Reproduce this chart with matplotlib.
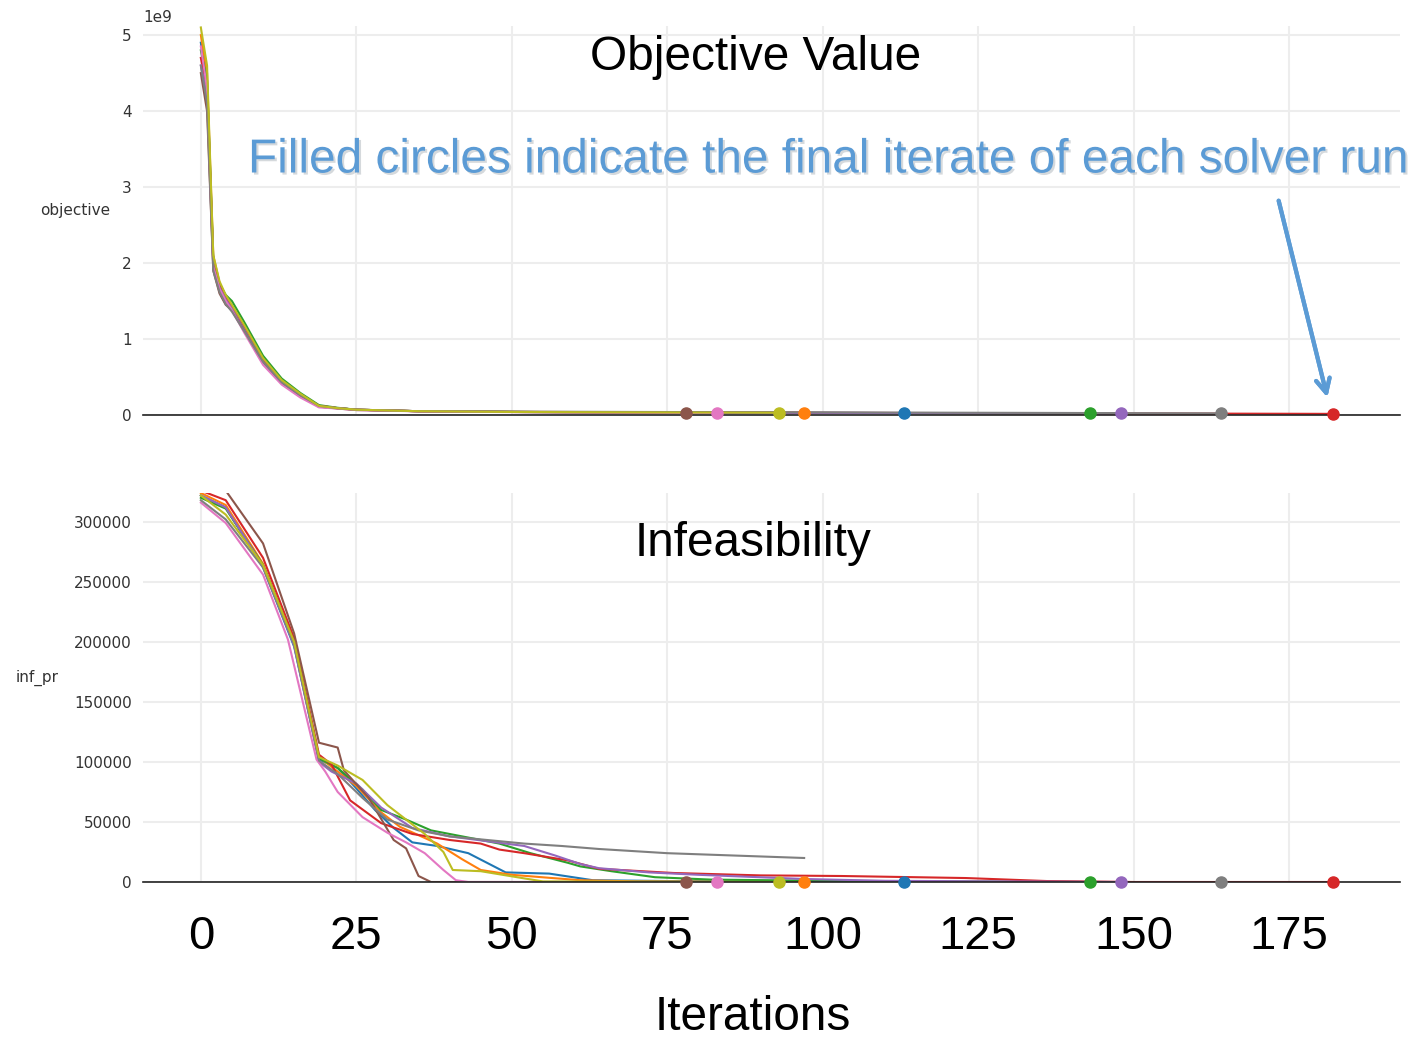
import matplotlib.pyplot as plt
import matplotlib.patheffects as pe

# solver runs, in tab10 colour order
run_colors = ["tab:blue", "tab:orange", "tab:green", "tab:red", "tab:purple",
              "tab:brown", "tab:pink", "tab:gray", "tab:olive"]
final_iter = [113, 97, 143, 182, 148, 78, 83, 164, 93]

# objective (x 1e9) at shared iteration breakpoints, then final value
obj_iter = [0, 1, 2, 3, 4, 5, 7, 10, 13, 16, 19, 22, 25, 35, 50, 70]
obj_blue = [4.9, 4.4, 2.0, 1.70, 1.52, 1.40, 1.12, 0.70, 0.43, 0.25, 0.11, 0.09, 0.07, 0.05, 0.040, 0.035]
obj_orange = [5.0, 4.5, 2.1, 1.74, 1.56, 1.44, 1.16, 0.73, 0.45, 0.27, 0.12, 0.09, 0.07, 0.05, 0.042, 0.036]
obj_green = [4.8, 4.4, 2.05, 1.72, 1.58, 1.50, 1.22, 0.78, 0.48, 0.29, 0.13, 0.095, 0.07, 0.05, 0.040, 0.033]
obj_red = [4.7, 4.3, 2.0, 1.70, 1.54, 1.42, 1.14, 0.72, 0.44, 0.26, 0.12, 0.09, 0.07, 0.05, 0.040, 0.034]
obj_purple = [4.6, 4.2, 1.95, 1.68, 1.52, 1.40, 1.12, 0.70, 0.43, 0.25, 0.11, 0.09, 0.07, 0.05, 0.040, 0.033]
obj_brown = [4.5, 4.0, 1.9, 1.60, 1.45, 1.38, 1.10, 0.70, 0.42, 0.25, 0.11, 0.085, 0.065, 0.05, 0.040, 0.035]
obj_pink = [4.85, 4.3, 1.95, 1.66, 1.50, 1.38, 1.08, 0.66, 0.40, 0.23, 0.10, 0.085, 0.065, 0.048, 0.038, 0.033]
obj_gray = [4.6, 4.1, 1.9, 1.62, 1.46, 1.36, 1.10, 0.70, 0.43, 0.26, 0.12, 0.09, 0.07, 0.05, 0.045, 0.040]
obj_olive = [5.1, 4.6, 2.1, 1.76, 1.58, 1.45, 1.18, 0.75, 0.46, 0.28, 0.12, 0.09, 0.07, 0.05, 0.040, 0.035]
obj_final = [0.025, 0.03, 0.02, 0.015, 0.02, 0.03, 0.028, 0.022, 0.03]

# primal infeasibility, (iteration, inf_pr) breakpoints per run
inf_blue = [(0, 322e3), (4, 312e3), (10, 262e3), (15, 196e3), (19, 102e3), (22, 95e3), (25, 78e3),
            (28, 60e3), (31, 45e3), (34, 33e3), (38, 30e3), (43, 24e3), (46, 16e3), (49, 8e3),
            (56, 7e3), (63, 1.5e3), (75, 800), (113, 0)]
inf_orange = [(0, 324e3), (4, 314e3), (10, 265e3), (15, 198e3), (19, 104e3), (22, 92e3), (25, 80e3),
              (29, 58e3), (32, 46e3), (38, 32e3), (42, 19e3), (45, 10e3), (50, 6e3), (56, 3.5e3),
              (61, 1.5e3), (70, 500), (97, 0)]
inf_green = [(0, 320e3), (4, 311e3), (10, 264e3), (15, 200e3), (19, 103e3), (22, 95e3), (26, 77e3),
             (29, 60e3), (33, 52e3), (37, 43e3), (42, 38e3), (48, 32e3), (53, 24e3), (59, 16e3),
             (61, 13e3), (66, 9e3), (73, 4e3), (82, 2e3), (100, 1e3), (143, 0)]
inf_red = [(0, 326e3), (4, 318e3), (10, 270e3), (15, 203e3), (19, 106e3), (21, 98e3), (24, 68e3),
           (29, 49e3), (34, 40e3), (40, 35e3), (45, 32e3), (48, 27e3), (52, 24e3), (59, 18e3),
           (64, 11e3), (76, 7.5e3), (90, 5.5e3), (103, 5e3), (123, 3.3e3), (136, 800), (150, 0), (182, 0)]
inf_purple = [(0, 322e3), (4, 312e3), (10, 263e3), (15, 197e3), (19, 100e3), (21, 92e3), (25, 82e3),
              (29, 62e3), (34, 45e3), (40, 38e3), (46, 34e3), (52, 30e3), (57, 22e3), (61, 15e3),
              (64, 11.5e3), (72, 8e3), (80, 6e3), (97, 2.5e3), (110, 1e3), (148, 0)]
inf_brown = [(0, 338e3), (4, 326e3), (10, 282e3), (15, 207e3), (19, 116e3), (22, 112e3), (23, 93e3),
             (27, 70e3), (31, 35e3), (33, 28e3), (35, 5e3), (37, 0), (78, 0)]
inf_pink = [(0, 316e3), (4, 299e3), (10, 256e3), (14, 202e3), (18.6, 102e3), (20, 92e3), (22, 75e3),
            (26, 54e3), (30, 41e3), (33, 33e3), (36, 24e3), (39, 10e3), (41, 1.5e3), (43, 0), (83, 0)]
inf_gray = [(0, 318e3), (4, 302e3), (10, 262e3), (15, 198e3), (19, 101e3), (22, 90e3), (26, 70e3),
            (30, 52e3), (35, 43e3), (40, 38e3), (46, 35e3), (52, 32e3), (58, 30e3), (64, 27.5e3),
            (75, 24e3), (86, 22e3), (97, 20e3)]
inf_olive = [(0, 322e3), (4, 306e3), (10, 264e3), (15, 200e3), (19, 104e3), (22, 97e3), (26, 85e3),
             (30, 64e3), (33, 52e3), (36, 40e3), (39, 25e3), (40.5, 10e3), (45, 9e3), (52, 3e3),
             (55, 500), (93, 0)]
inf_final = [0, 0, 0, 0, 0, 0, 0, 0, 0]

obj_runs = [obj_blue, obj_orange, obj_green, obj_red, obj_purple, obj_brown, obj_pink, obj_gray, obj_olive]
inf_runs = [inf_blue, inf_orange, inf_green, inf_red, inf_purple, inf_brown, inf_pink, inf_gray, inf_olive]

W, H = 1417, 1039
fig = plt.figure(figsize=(W / 100, H / 100), dpi=100)
ax1 = fig.add_axes([143 / W, 1 - 415 / H, (1400 - 143) / W, (415 - 26) / H])
ax2 = fig.add_axes([143 / W, 1 - 882 / H, (1400 - 143) / W, (882 - 493) / H], sharex=ax1)

for c, obj, fin, f_obj in zip(run_colors, obj_runs, final_iter, obj_final):
    xs = obj_iter + [fin]
    ys = [v * 1e9 for v in obj + [f_obj]]
    ax1.plot(xs, ys, color=c, lw=1.5)
    ax1.plot(fin, f_obj * 1e9, "o", color=c, ms=8, clip_on=False, zorder=5)

for c, run, fin, f_inf in zip(run_colors, inf_runs, final_iter, inf_final):
    ax2.plot([p[0] for p in run], [p[1] for p in run], color=c, lw=1.5)
    ax2.plot(fin, f_inf, "o", color=c, ms=8, clip_on=False, zorder=5)

ax1.set_xlim(-9.3, 192.8)
ax1.set_ylim(0, 5.12e9)
ax2.set_ylim(0, 324000)
ax2.set_xticks([0, 25, 50, 75, 100, 125, 150, 175])
ax2.set_yticks([0, 50000, 100000, 150000, 200000, 250000, 300000])

for ax in (ax1, ax2):
    ax.grid(True, color="#ededed", lw=1.5)
    ax.set_axisbelow(True)
    for s in ("top", "right", "left"):
        ax.spines[s].set_visible(False)
    ax.spines["bottom"].set_color("#222222")
    ax.spines["bottom"].set_linewidth(1.2)
    ax.tick_params(length=0, labelsize=11, labelcolor="#333333", pad=8)

ax1.tick_params(axis="x", labelbottom=False)
ax2.tick_params(axis="x", labelsize=34, labelcolor="black", pad=24)
for lab in ax2.get_xticklabels():
    lab.set_family("Liberation Sans")
ax1.yaxis.get_offset_text().set_fontsize(11)
ax1.yaxis.get_offset_text().set_color("#333333")

fig.text(75 / W, 1 - 211 / H, "objective", ha="center", va="center", fontsize=11, color="#333333")
fig.text(37 / W, 1 - 678 / H, "inf_pr", ha="center", va="center", fontsize=11, color="#333333")

fig.text(756 / W, 1 - 58 / H, "Objective Value", ha="center", va="center",
         fontsize=34.4, family="Liberation Sans")
fig.text(753 / W, 1 - 543 / H, "Infeasibility", ha="center", va="center",
         fontsize=34.4, family="Liberation Sans")
fig.text(753 / W, 1 - 1018 / H, "Iterations", ha="center", va="center",
         fontsize=34.4, family="Liberation Sans")

note_color = "#5b9bd5"
fig.text(248 / W, 1 - 160 / H, "Filled circles indicate the final iterate of each solver run",
         ha="left", va="center", fontsize=34.4, family="Liberation Sans", color=note_color,
         path_effects=[pe.SimplePatchShadow(offset=(1.5, -1.5), alpha=0.18), pe.Normal()])
fig.add_artist(plt.annotate("", xy=(1328 / W, 1 - 400 / H), xytext=(1278 / W, 1 - 198 / H),
                            xycoords="figure fraction", textcoords="figure fraction",
                            arrowprops=dict(arrowstyle="->", color=note_color, lw=3,
                                            mutation_scale=25)))

fig.savefig("out.png", dpi=100)
